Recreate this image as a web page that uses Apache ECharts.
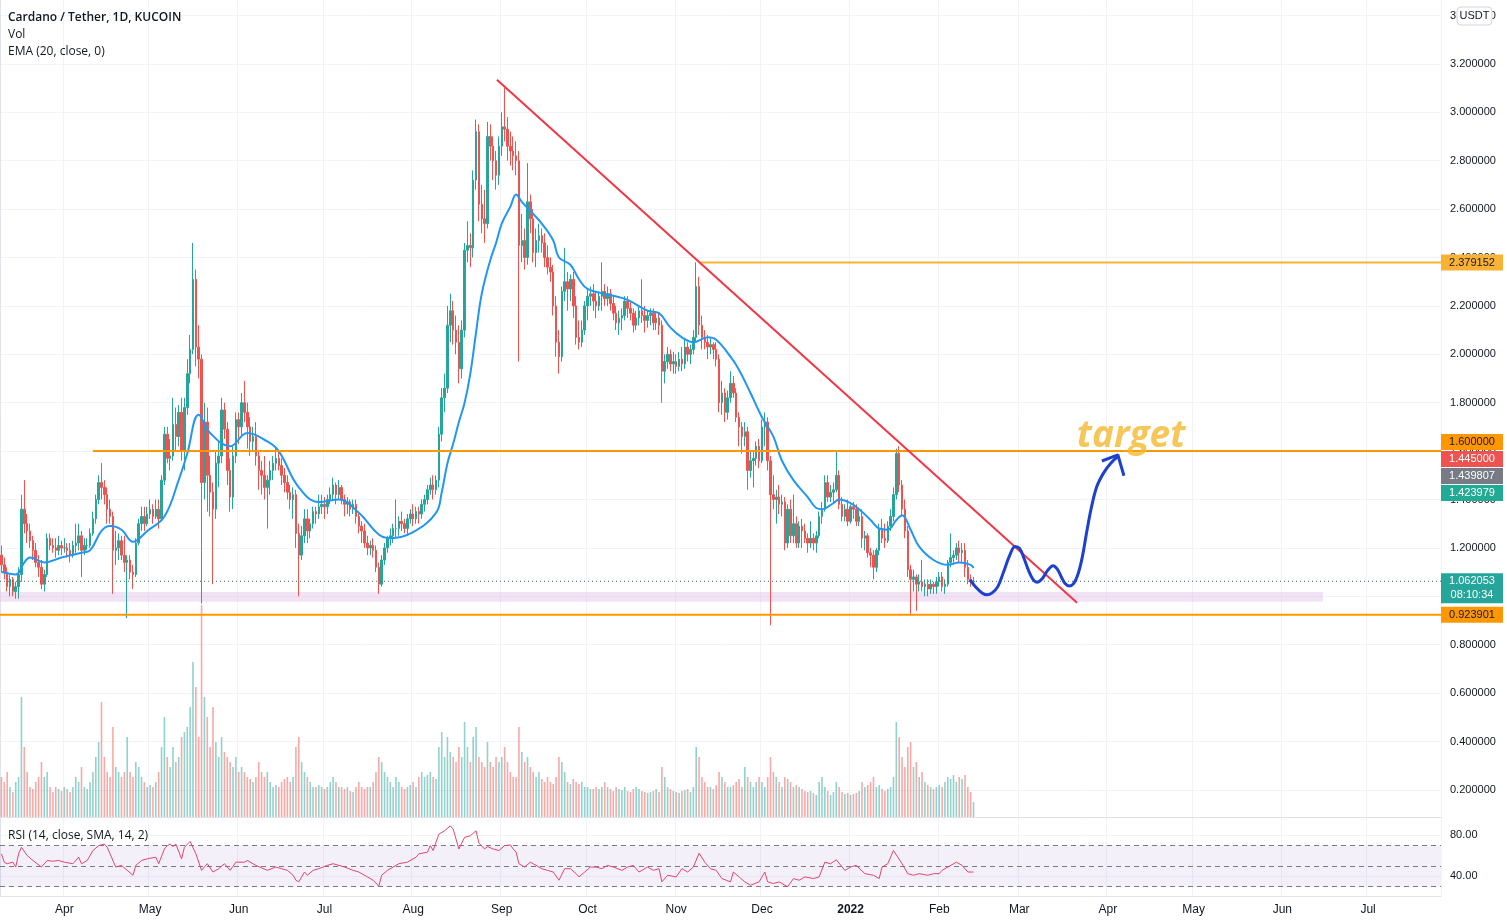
<!DOCTYPE html>
<html><head><meta charset="utf-8">
<script src="https://cdn.jsdelivr.net/npm/echarts@6/dist/echarts.min.js"></script>
<style>html,body{margin:0;padding:0;background:#fff}#c{width:1507px;height:924px}</style>
</head><body><div id="c"></div>
<script>
// ---------- DATA ----------
const startDate = [2021, 2, 10]; // 2021-03-10 (UTC), daily bars
const dayCount = 504;            // axis runs to 2022-07-26
// daily candles [open, high, low, close]
const ohlc = [
[1.17,1.21,1.10,1.13],[1.13,1.16,1.07,1.10],[1.10,1.12,1.02,1.04],[1.04,1.09,1.00,1.07],[1.07,1.08,1.00,1.02],
[1.02,1.06,0.99,1.04],[1.04,1.12,0.99,1.09],[1.09,1.42,1.06,1.36],[1.36,1.48,1.26,1.30],[1.30,1.34,1.22,1.27],
[1.27,1.30,1.20,1.23],[1.23,1.25,1.15,1.19],[1.19,1.22,1.12,1.14],[1.14,1.17,1.08,1.12],[1.12,1.15,1.03,1.05],
[1.05,1.11,1.02,1.09],[1.09,1.26,1.08,1.24],[1.24,1.26,1.19,1.21],[1.21,1.24,1.18,1.20],[1.20,1.24,1.16,1.19],
[1.19,1.25,1.17,1.21],[1.21,1.23,1.17,1.20],[1.20,1.24,1.18,1.20],[1.20,1.22,1.16,1.19],[1.19,1.22,1.14,1.17],
[1.17,1.23,1.16,1.21],[1.21,1.30,1.18,1.22],[1.22,1.30,1.19,1.25],[1.25,1.27,1.08,1.19],[1.19,1.24,1.17,1.21],
[1.21,1.24,1.19,1.21],[1.21,1.28,1.20,1.26],[1.26,1.35,1.25,1.32],[1.32,1.42,1.30,1.40],[1.40,1.50,1.38,1.47],
[1.47,1.55,1.40,1.45],[1.45,1.48,1.38,1.42],[1.42,1.45,1.30,1.36],[1.36,1.40,1.30,1.33],[1.33,1.35,1.01,1.19],
[1.19,1.27,1.13,1.20],[1.20,1.26,1.15,1.23],[1.23,1.25,1.15,1.17],[1.17,1.25,1.10,1.14],[1.14,1.17,0.91,1.15],
[1.15,1.17,1.07,1.10],[1.10,1.13,1.03,1.09],[1.09,1.24,1.08,1.22],[1.22,1.32,1.21,1.30],[1.30,1.37,1.27,1.33],
[1.33,1.37,1.27,1.30],[1.30,1.37,1.29,1.34],[1.34,1.40,1.32,1.36],[1.36,1.38,1.30,1.33],[1.33,1.40,1.32,1.36],
[1.36,1.40,1.28,1.32],[1.32,1.50,1.31,1.48],[1.48,1.70,1.46,1.67],[1.67,1.70,1.55,1.57],[1.57,1.65,1.52,1.58],
[1.58,1.82,1.56,1.71],[1.71,1.78,1.60,1.66],[1.66,1.79,1.62,1.76],[1.76,1.82,1.56,1.60],[1.60,1.82,1.52,1.78],
[1.78,1.98,1.75,1.92],[1.92,2.08,1.88,2.02],[2.02,2.46,2.00,2.31],[2.31,2.35,1.95,2.03],[2.03,2.12,1.90,1.98],
[1.98,2.00,0.97,1.47],[1.47,1.80,1.40,1.72],[1.72,1.78,1.35,1.50],[1.50,1.58,1.33,1.43],[1.43,1.47,1.05,1.36],
[1.36,1.60,1.32,1.55],[1.55,1.64,1.45,1.58],[1.58,1.82,1.55,1.77],[1.77,1.80,1.65,1.69],[1.69,1.72,1.46,1.52],
[1.52,1.57,1.35,1.41],[1.41,1.62,1.36,1.58],[1.58,1.76,1.55,1.73],[1.73,1.76,1.63,1.70],[1.70,1.84,1.66,1.80],
[1.80,1.89,1.72,1.76],[1.76,1.80,1.61,1.70],[1.70,1.74,1.58,1.64],[1.64,1.70,1.60,1.66],[1.66,1.72,1.54,1.58],
[1.58,1.60,1.44,1.52],[1.52,1.56,1.42,1.50],[1.50,1.58,1.40,1.45],[1.45,1.50,1.28,1.48],[1.48,1.56,1.42,1.52],
[1.52,1.58,1.48,1.55],[1.55,1.62,1.52,1.57],[1.57,1.60,1.52,1.54],[1.54,1.57,1.46,1.50],[1.50,1.53,1.43,1.47],
[1.47,1.50,1.40,1.43],[1.43,1.46,1.36,1.40],[1.40,1.45,1.32,1.42],[1.42,1.44,1.20,1.26],[1.26,1.30,1.00,1.17],
[1.17,1.29,1.15,1.25],[1.25,1.36,1.22,1.32],[1.32,1.36,1.22,1.27],[1.27,1.32,1.24,1.30],[1.30,1.37,1.28,1.35],
[1.35,1.37,1.30,1.34],[1.34,1.42,1.32,1.37],[1.37,1.42,1.34,1.38],[1.38,1.41,1.32,1.37],[1.37,1.42,1.34,1.40],
[1.40,1.45,1.38,1.42],[1.42,1.49,1.40,1.46],[1.46,1.47,1.38,1.42],[1.42,1.48,1.40,1.45],[1.45,1.46,1.38,1.40],
[1.40,1.42,1.33,1.38],[1.38,1.41,1.34,1.39],[1.39,1.40,1.33,1.36],[1.36,1.40,1.34,1.38],[1.38,1.40,1.30,1.33],
[1.33,1.34,1.26,1.29],[1.29,1.31,1.22,1.27],[1.27,1.30,1.20,1.22],[1.22,1.25,1.17,1.20],[1.20,1.23,1.17,1.21],
[1.21,1.24,1.16,1.19],[1.19,1.21,1.10,1.12],[1.12,1.14,1.01,1.05],[1.05,1.17,1.04,1.15],[1.15,1.22,1.13,1.20],
[1.20,1.25,1.18,1.24],[1.24,1.28,1.21,1.25],[1.25,1.30,1.22,1.28],[1.28,1.40,1.24,1.28],[1.28,1.33,1.25,1.31],
[1.31,1.35,1.27,1.30],[1.30,1.32,1.26,1.28],[1.28,1.34,1.25,1.32],[1.32,1.36,1.30,1.34],[1.34,1.38,1.29,1.32],
[1.32,1.37,1.30,1.35],[1.35,1.37,1.30,1.34],[1.34,1.40,1.32,1.38],[1.38,1.42,1.35,1.40],[1.40,1.46,1.38,1.44],
[1.44,1.49,1.42,1.46],[1.46,1.50,1.40,1.44],[1.44,1.50,1.42,1.48],[1.48,1.70,1.45,1.67],[1.67,1.86,1.64,1.82],
[1.82,1.92,1.76,1.86],[1.86,2.20,1.84,2.12],[2.12,2.25,2.05,2.18],[2.18,2.22,2.04,2.10],[2.10,2.16,2.00,2.05],
[2.05,2.12,1.88,1.94],[1.94,2.14,1.90,2.10],[2.10,2.46,2.07,2.43],[2.43,2.55,2.38,2.45],[2.45,2.50,2.36,2.44],
[2.44,2.76,2.40,2.72],[2.72,2.97,2.68,2.92],[2.92,2.95,2.55,2.62],[2.62,2.70,2.50,2.56],[2.56,2.68,2.46,2.54],
[2.54,2.96,2.52,2.90],[2.90,2.95,2.80,2.86],[2.86,2.90,2.72,2.80],[2.80,2.84,2.68,2.74],[2.74,2.90,2.70,2.86],
[2.86,3.00,2.82,2.94],[2.94,3.10,2.88,2.93],[2.93,2.98,2.80,2.86],[2.86,2.92,2.78,2.84],[2.84,2.90,2.76,2.82],
[2.82,2.88,2.74,2.80],[2.80,2.84,1.97,2.45],[2.45,2.58,2.38,2.47],[2.47,2.52,2.35,2.40],[2.40,2.79,2.37,2.63],
[2.63,2.66,2.50,2.56],[2.56,2.60,2.38,2.42],[2.42,2.52,2.36,2.47],[2.47,2.54,2.42,2.49],[2.49,2.52,2.42,2.46],
[2.46,2.50,2.36,2.40],[2.40,2.45,2.33,2.36],[2.36,2.40,2.30,2.34],[2.34,2.37,2.16,2.20],[2.20,2.24,1.99,2.05],
[2.05,2.10,1.92,1.99],[1.99,2.28,1.97,2.26],[2.26,2.44,2.22,2.30],[2.30,2.34,2.18,2.27],[2.27,2.33,2.22,2.31],
[2.31,2.34,2.15,2.20],[2.20,2.24,2.04,2.07],[2.07,2.14,2.02,2.05],[2.05,2.14,2.03,2.10],[2.10,2.22,2.08,2.20],
[2.20,2.27,2.14,2.24],[2.24,2.28,2.20,2.25],[2.25,2.29,2.18,2.22],[2.22,2.26,2.15,2.20],[2.20,2.26,2.18,2.24],
[2.24,2.38,2.18,2.26],[2.26,2.29,2.20,2.23],[2.23,2.28,2.20,2.25],[2.25,2.27,2.18,2.21],[2.21,2.24,2.14,2.17],
[2.17,2.20,2.10,2.13],[2.13,2.18,2.08,2.15],[2.15,2.19,2.10,2.16],[2.16,2.24,2.14,2.22],[2.22,2.24,2.15,2.19],
[2.19,2.22,2.14,2.17],[2.17,2.19,2.09,2.12],[2.12,2.18,2.10,2.15],[2.15,2.20,2.12,2.18],[2.18,2.31,2.13,2.16],
[2.16,2.20,2.09,2.14],[2.14,2.18,2.11,2.16],[2.16,2.19,2.12,2.17],[2.17,2.19,2.10,2.13],[2.13,2.17,2.10,2.15],
[2.15,2.17,2.08,2.12],[2.12,2.14,1.80,1.93],[1.93,2.00,1.88,1.97],[1.97,2.03,1.94,2.00],[2.00,2.02,1.93,1.96],
[1.96,2.01,1.92,1.97],[1.97,2.00,1.92,1.95],[1.95,2.01,1.93,1.98],[1.98,2.03,1.93,1.96],[1.96,2.06,1.94,2.03],
[2.03,2.05,1.97,2.00],[2.00,2.04,1.96,2.02],[2.02,2.10,2.00,2.07],[2.07,2.38,2.05,2.28],[2.28,2.32,2.08,2.12],
[2.12,2.16,2.02,2.07],[2.07,2.10,2.02,2.05],[2.05,2.08,1.98,2.03],[2.03,2.07,2.00,2.04],[2.04,2.05,1.98,2.02],
[2.02,2.05,1.95,1.98],[1.98,2.00,1.76,1.80],[1.80,1.89,1.75,1.84],[1.84,1.86,1.72,1.76],[1.76,1.85,1.73,1.82],
[1.82,1.93,1.80,1.88],[1.88,1.91,1.82,1.84],[1.84,1.86,1.72,1.74],[1.74,1.76,1.62,1.70],[1.70,1.72,1.59,1.66],
[1.66,1.72,1.62,1.68],[1.68,1.70,1.44,1.52],[1.52,1.60,1.49,1.56],[1.56,1.60,1.45,1.57],[1.57,1.64,1.54,1.62],
[1.62,1.65,1.53,1.56],[1.56,1.73,1.55,1.70],[1.70,1.76,1.62,1.72],[1.72,1.74,1.52,1.56],[1.56,1.58,0.88,1.42],
[1.42,1.50,1.36,1.40],[1.40,1.44,1.30,1.41],[1.41,1.46,1.34,1.38],[1.38,1.42,1.33,1.39],[1.39,1.41,1.19,1.22],
[1.22,1.38,1.20,1.36],[1.36,1.40,1.22,1.25],[1.25,1.42,1.22,1.30],[1.30,1.33,1.20,1.22],[1.22,1.31,1.20,1.29],
[1.29,1.32,1.20,1.27],[1.27,1.30,1.22,1.24],[1.24,1.26,1.18,1.22],[1.22,1.31,1.20,1.24],[1.24,1.26,1.19,1.22],
[1.22,1.27,1.18,1.25],[1.25,1.35,1.24,1.33],[1.33,1.39,1.30,1.36],[1.36,1.50,1.35,1.47],[1.47,1.50,1.39,1.41],
[1.41,1.46,1.39,1.43],[1.43,1.47,1.39,1.44],[1.44,1.60,1.43,1.50],[1.50,1.52,1.36,1.38],[1.38,1.41,1.31,1.33],
[1.33,1.38,1.31,1.36],[1.36,1.40,1.29,1.31],[1.31,1.38,1.30,1.37],[1.37,1.39,1.32,1.36],[1.36,1.38,1.29,1.31],
[1.31,1.36,1.29,1.33],[1.33,1.36,1.20,1.24],[1.24,1.27,1.19,1.25],[1.25,1.26,1.16,1.18],[1.18,1.20,1.12,1.17],
[1.17,1.19,1.07,1.12],[1.12,1.20,1.10,1.19],[1.19,1.30,1.17,1.28],[1.28,1.32,1.22,1.24],[1.24,1.30,1.20,1.23],
[1.23,1.31,1.22,1.29],[1.29,1.36,1.27,1.33],[1.33,1.45,1.31,1.42],[1.42,1.61,1.40,1.59],[1.59,1.62,1.43,1.46],
[1.46,1.48,1.33,1.36],[1.36,1.40,1.24,1.27],[1.27,1.29,1.08,1.11],[1.11,1.13,0.92,1.07],[1.07,1.11,1.02,1.08],
[1.08,1.09,0.94,1.05],[1.05,1.09,1.02,1.06],[1.06,1.15,1.02,1.04],[1.04,1.07,1.00,1.05],[1.05,1.07,1.00,1.03],
[1.03,1.07,1.01,1.05],[1.05,1.06,1.01,1.04],[1.04,1.08,1.01,1.06],[1.06,1.10,1.04,1.08],[1.08,1.10,1.02,1.04],
[1.04,1.07,1.01,1.05],[1.05,1.15,1.04,1.14],[1.14,1.26,1.12,1.16],[1.16,1.19,1.13,1.17],[1.17,1.22,1.15,1.20],
[1.20,1.23,1.14,1.18],[1.18,1.22,1.14,1.19],[1.19,1.22,1.08,1.12],[1.12,1.15,1.05,1.07],[1.07,1.09,1.04,1.06],
[1.06,1.08,1.05,1.062053]
];
// daily volume (relative units)
const volumes = [
40,35,45,30,25,35,40,120,70,45,30,28,35,40,55,40,45,30,25,30,28,26,
30,28,25,30,40,35,50,30,28,35,45,60,75,115,60,45,40,90,50,45,40,45,80,45,40,
55,50,40,35,30,32,30,35,45,70,100,60,50,70,55,60,80,85,90,110,155,130,80,212,
120,100,70,110,75,60,80,65,60,55,50,60,45,50,45,40,38,35,40,55,
45,40,45,35,30,32,30,35,38,40,35,40,70,80,55,45,40,35,30,30,32,30,28,30,35,
40,35,30,30,28,30,26,25,30,35,30,28,30,30,35,45,60,
55,45,40,35,30,40,35,30,28,30,32,35,30,40,45,40,42,45,40,38,
70,85,60,80,65,60,55,70,60,95,70,55,80,90,60,55,50,75,55,50,60,55,60,70,55,45,40,40,90,
65,55,60,50,45,40,45,38,35,40,35,33,40,60,55,45,35,33,38,
35,33,35,30,30,28,28,30,28,30,35,30,28,26,30,28,27,30,26,25,28,30,28,26,25,24,25,26,28,25,50,
40,30,28,26,25,24,26,27,28,25,30,70,60,40,35,30,30,28,32,
45,40,35,30,30,32,35,38,30,50,40,35,30,35,40,35,30,40,60,
45,40,35,30,40,38,35,30,32,30,28,26,25,26,24,22,35,40,30,26,22,25,35,30,25,23,24,
22,23,24,26,35,30,32,35,40,30,32,28,26,28,30,40,95,80,60,50,70,75,50,55,
40,45,35,32,30,28,30,32,30,35,40,38,42,35,40,38,42,30,25,15
];
// EMA(20): [day index, value]
const emaPoints = [
[0,1.10],[5,1.09],[8,1.14],[10,1.16],[15,1.14],[21,1.16],[28,1.18],[31,1.19],[35,1.27],[38,1.29],[42,1.275],
[46,1.225],[51,1.27],[57,1.33],[62,1.48],[65,1.59],[69,1.75],[73,1.675],[80,1.62],[86,1.675],[93,1.64],[97,1.60],
[104,1.45],[111,1.39],[118,1.40],[125,1.345],[132,1.255],[136,1.24],[144,1.265],[152,1.345],[154,1.43],[156,1.55],
[158,1.63],[160,1.72],[162,1.80],[164,1.92],[166,2.09],[168,2.25],[171,2.39],[173,2.46],[175,2.54],[178,2.61],
[180,2.66],[182,2.63],[186,2.58],[189,2.54],[193,2.47],[195,2.40],[199,2.37],[202,2.31],[205,2.27],[213,2.245],
[219,2.225],[226,2.18],[230,2.17],[234,2.11],[238,2.07],[242,2.05],[247,2.07],[250,2.06],[255,1.99],[258,1.935],
[262,1.84],[266,1.74],[270,1.66],[273,1.56],[277,1.48],[282,1.41],[285,1.365],[287,1.36],[291,1.385],[293,1.40],
[297,1.385],[300,1.36],[304,1.315],[307,1.28],[310,1.275],[313,1.315],[315,1.335],[318,1.275],[321,1.205],
[326,1.15],[331,1.13],[335,1.14],[339,1.13],[340,1.117]
];
// RSI(14): [day index, value]
const rsiPoints = [
[0,61.6],[1,53.6],[2,52.1],[4,53.6],[5,48.9],[6,61.6],[7,67.9],[9,60],[11,55.2],[14,48.9],[15,52.1],[16,55.2],
[18,54.5],[20,55.2],[22,53.6],[25,52.1],[27,58.4],[28,52.1],[30,55.2],[32,64.8],[34,69.5],[36,71.1],[37,67.9],
[40,48.9],[42,50.5],[44,45.7],[46,41],[47,50.5],[49,55.2],[51,56.8],[54,58.4],[55,52.1],[57,66.3],[58,69.5],
[59,71.1],[60,68.6],[61,71.1],[63,56.8],[64,67.9],[66,73.6],[68,61.6],[70,45.7],[72,52.1],[74,44.1],[76,47.3],
[78,52.1],[80,45.7],[82,53.6],[85,53.6],[86,55.2],[89,50.5],[93,45.7],[96,48.9],[100,45.7],[102,41],[103,36.2],
[104,34.6],[106,44.1],[107,41],[109,45.7],[111,47.3],[114,50.5],[116,52.1],[120,48.9],[123,45.7],[125,44.1],
[128,39.4],[130,36.2],[132,30.5],[133,41],[135,45.7],[139,52.1],[142,53.6],[145,58.4],[146,61.6],[149,63.2],
[150,69.5],[151,64.8],[153,80.6],[155,83.8],[157,88.6],[158,85.4],[160,66.3],[162,77.5],[164,79],[166,83.8],
[167,72],[169,66.3],[170,68.6],[172,66.3],[174,64.8],[176,69.5],[178,70.2],[179,66.3],[180,63.2],[181,52.1],
[183,48.9],[185,53.6],[187,50.5],[189,47.3],[191,45.7],[193,44.1],[195,36.2],[197,47.3],[199,47.3],[201,42.5],
[202,39.4],[204,44.1],[206,48.9],[208,48.9],[210,47.3],[212,50.5],[214,48.9],[217,45.7],[219,48.9],[221,50.5],
[222,47.3],[223,44.1],[226,48.9],[228,45.7],[230,47.3],[231,34.6],[233,41],[236,39.4],[238,47.3],[240,44.1],
[242,48.9],[244,62.2],[246,53.6],[248,47.3],[250,45.7],[252,37.8],[255,34.6],[256,44.1],[258,39.4],[260,34.6],
[262,31.4],[265,34.6],[267,44.1],[268,34.6],[270,33],[272,34.6],[275,29.9],[277,37.8],[279,36.2],[281,39.4],
[284,37.8],[286,39.4],[288,53.6],[290,52.1],[292,55.9],[295,45.7],[297,48.9],[299,50.5],[302,42.5],[305,41],
[307,37.8],[308,48.9],[310,52.1],[312,64.8],[315,52.1],[317,42.5],[319,41],[321,42.5],[324,41],[326,42.5],
[328,42.5],[329,45.7],[331,48.9],[334,53.6],[336,50.5],[338,44.1],[340,44.1]
];
const priceTicks = [0.2,0.4,0.6,0.8,1.0,1.2,1.4,1.6,1.8,2.0,2.2,2.4,2.6,2.8,3.0,3.2,3.4];
const rsiTicks = [40, 80];
const rsiLevels = [70, 50, 30];
const monthTicks = [
['2021-04-01','Apr'],['2021-05-01','May'],['2021-06-01','Jun'],['2021-07-01','Jul'],['2021-08-01','Aug'],
['2021-09-01','Sep'],['2021-10-01','Oct'],['2021-11-01','Nov'],['2021-12-01','Dec'],['2022-01-01','2022'],
['2022-02-01','Feb'],['2022-03-01','Mar'],['2022-04-01','Apr'],['2022-05-01','May'],['2022-06-01','Jun'],
['2022-07-01','Jul']
];
// drawings, in [day offset, price]
const trendLine = [[173.8,3.134],[376.7,0.973]];
const levelTop = [[244.8,2.379152],[504,2.379152]];
const levelMid = [[32.5,1.6],[504,1.6]];
const levelLow = [[0,0.923901],[504,0.923901]];
const lastPrice = 1.062053;
const zoneBox = [[0,0.977],[462.7,1.018]];
const projection = [
[339.3,1.068],[341.5,1.035],[343.5,1.014],[345.2,1.006],[347,1.014],[349,1.04],[351,1.10],[353,1.165],[355,1.206],
[356.6,1.198],[358.2,1.155],[359.8,1.105],[361.3,1.07],[362.7,1.058],[364.5,1.072],[366.5,1.108],[368.3,1.126],
[369.8,1.112],[371.3,1.078],[372.6,1.052],[374,1.043],[375.5,1.052],[377,1.09],[378.5,1.16],[380,1.26],
[381.6,1.36],[383.5,1.45],[386,1.51],[388.5,1.55],[391,1.578]
];
const arrowHead = [[385.4,1.559],[391.0,1.584],[393.1,1.498]];
const targetLabel = [395.6, 1.659, 'target'];
const badgesStack = [['1.445000','#ef5350'],['1.439807','#787b86'],['1.423979','#22ab94']];

// ---------- BUILD ----------
const dates = [];
const t0 = Date.UTC(startDate[0], startDate[1], startDate[2]);
for (let k = 0; k < dayCount; k++) dates.push(new Date(t0 + k * 864e5).toISOString().slice(0, 10));
const tickMap = {}; monthTicks.forEach(m => tickMap[m[0]] = m[1]);
const isTick = (idx, val) => tickMap[val] !== undefined;

const candleData = ohlc.map(r => [r[0], r[3], r[2], r[1]]);
const volData = volumes.map((v, k) => ({
  value: v,
  itemStyle: { color: ohlc[k][3] >= ohlc[k][0] ? 'rgba(38,166,154,0.5)' : 'rgba(239,83,80,0.5)' }
}));
const half = p => [p[0] + 0.5, p[1]];

const chart = echarts.init(document.getElementById('c'), null, { renderer: 'canvas' });
const gridCol = '#f0f3fa', borderCol = '#e0e3eb', textCol = '#131722';
const FONT = 'Liberation Sans, Arial, sans-serif';

const lineSeries = (data, color, width, extra) => Object.assign({
  type: 'line', xAxisIndex: 2, yAxisIndex: 0, data, symbol: 'none', silent: true,
  lineStyle: { color, width }, z: 5
}, extra || {});

chart.setOption({
  animation: false,
  backgroundColor: '#ffffff',
  grid: [
    { left: 0, right: 66, top: 0, height: 817 },
    { left: 0, right: 66, top: 817, height: 79 }
  ],
  xAxis: [
    { type: 'category', gridIndex: 0, data: dates, boundaryGap: true,
      axisLine: { show: true, lineStyle: { color: borderCol } }, axisTick: { show: false }, axisLabel: { show: false },
      splitLine: { show: true, interval: isTick, lineStyle: { color: gridCol } } },
    { type: 'category', gridIndex: 1, data: dates, boundaryGap: true,
      axisLine: { show: true, lineStyle: { color: borderCol } }, axisTick: { show: false },
      axisLabel: { show: true, interval: isTick, margin: 8, color: textCol, fontSize: 12, fontFamily: FONT,
        formatter: v => tickMap[v] === '2022' ? '{y|2022}' : (tickMap[v] || ''),
        rich: { y: { fontWeight: 'bold', fontSize: 12, color: textCol, fontFamily: FONT } } },
      splitLine: { show: true, interval: isTick, lineStyle: { color: gridCol } } },
    { type: 'value', gridIndex: 0, min: 0, max: dayCount, show: false },
    { type: 'value', gridIndex: 1, min: 0, max: dayCount, show: false }
  ],
  yAxis: [
    { type: 'value', gridIndex: 0, position: 'right', min: 0.088, max: 3.464, scale: true,
      axisLine: { show: true, lineStyle: { color: borderCol } },
      axisTick: { show: false, customValues: priceTicks },
      axisLabel: { customValues: priceTicks, margin: 9, color: textCol, fontSize: 11, fontFamily: FONT,
        formatter: v => Number(v).toFixed(6) },
      splitLine: { show: true, lineStyle: { color: gridCol } } },
    { type: 'value', gridIndex: 0, min: 0, max: 817, show: false },
    { type: 'value', gridIndex: 1, position: 'right', min: 21, max: 97.1,
      axisLine: { show: true, lineStyle: { color: borderCol } },
      axisTick: { show: false, customValues: rsiTicks },
      axisLabel: { customValues: rsiTicks, margin: 9, color: textCol, fontSize: 11, fontFamily: FONT,
        formatter: v => Number(v).toFixed(2) },
      splitLine: { show: true, lineStyle: { color: gridCol } } }
  ],
  series: [
    { type: 'bar', xAxisIndex: 0, yAxisIndex: 1, data: volData, barWidth: 1.6, silent: true, z: 1 },
    { type: 'candlestick', xAxisIndex: 0, yAxisIndex: 0, data: candleData, barWidth: 2, silent: true, z: 3,
      itemStyle: { color: '#26a69a', color0: '#ef5350', borderColor: '#26a69a', borderColor0: '#ef5350', borderWidth: 1 } },
    lineSeries(emaPoints.map(half), '#2196f3', 2, { smooth: 0.4, z: 4 }),
    lineSeries(levelLow, '#ff9800', 2, {
      markArea: { silent: true, itemStyle: { color: 'rgba(225,190,231,0.45)' },
        data: [[{ coord: zoneBox[0] }, { coord: zoneBox[1] }]] } }),
    lineSeries(levelMid, '#ff9800', 2),
    lineSeries(levelTop, '#f9b233', 2),
    lineSeries([[0, lastPrice], [dayCount, lastPrice]], '#3f6e6a', 1, { lineStyle: { color: '#3f6e6a', width: 1, type: [1, 3] } }),
    lineSeries(trendLine, '#f23645', 2),
    lineSeries(projection, '#1e40d0', 3, { smooth: 0.35, z: 6 }),
    lineSeries(arrowHead, '#1e40d0', 3, { z: 6 }),
    { type: 'scatter', xAxisIndex: 2, yAxisIndex: 0, symbolSize: 0, silent: true, z: 7,
      data: [[targetLabel[0], targetLabel[1]]],
      label: { show: true, position: 'inside', formatter: targetLabel[2], color: '#f5b82e',
        fontSize: 37, fontWeight: 'bold', fontStyle: 'italic', fontFamily: 'Open Sans, sans-serif' } },
    { type: 'line', xAxisIndex: 3, yAxisIndex: 2, data: rsiPoints.map(half), symbol: 'none', silent: true,
      lineStyle: { color: '#e2466e', width: 1 }, z: 5,
      markArea: { silent: true, itemStyle: { color: 'rgba(126,87,194,0.09)' },
        data: [[{ yAxis: rsiLevels[2] }, { yAxis: rsiLevels[0] }]] },
      markLine: { silent: true, symbol: 'none', label: { show: false },
        lineStyle: { color: '#787b86', type: [5, 4], width: 1 },
        data: rsiLevels.map(v => ({ yAxis: v })) } }
  ]
});

// ---------- price badges on the right scale ----------
const yPix = v => chart.convertToPixel({ yAxisIndex: 0 }, v);
const elems = [];
function badge(cy, text, bg, fg) {
  elems.push({ type: 'rect', z: 100, shape: { x: 1441, y: cy - 8, width: 62, height: 16 }, style: { fill: bg } });
  elems.push({ type: 'text', z: 101, style: { x: 1472, y: cy, text, fill: fg, align: 'center', verticalAlign: 'middle',
    font: '11px ' + FONT } });
}
badge(yPix(2.379152), '2.379152', '#f9b233', textCol);
const c16 = yPix(1.6) - 9;
badge(c16, '1.600000', '#ff9800', textCol);
badgesStack.forEach((b, k) => badge(c16 + 17 * (k + 1), b[0], b[1], '#ffffff'));
const yl = yPix(lastPrice);
elems.push({ type: 'rect', z: 100, shape: { x: 1441, y: yl - 8, width: 62, height: 30 }, style: { fill: '#26a69a' } });
elems.push({ type: 'text', z: 101, style: { x: 1472, y: yl, text: '1.062053', fill: '#fff', align: 'center', verticalAlign: 'middle', font: '11px ' + FONT } });
elems.push({ type: 'text', z: 101, style: { x: 1472, y: yl + 14, text: '08:10:34', fill: '#fff', align: 'center', verticalAlign: 'middle', font: '11px ' + FONT } });
badge(yPix(0.923901), '0.923901', '#ff9800', textCol);
// currency pill
elems.push({ type: 'rect', z: 100, shape: { x: 1457, y: 7, width: 35, height: 18, r: 4 }, style: { fill: '#fff', stroke: '#d1d4dc', lineWidth: 1 } });
elems.push({ type: 'text', z: 101, style: { x: 1474.5, y: 16, text: 'USDT', fill: textCol, align: 'center', verticalAlign: 'middle', font: '11px ' + FONT } });
// legends
const legend = [
  ['Cardano / Tether, 1D, KUCOIN', 16, '600 12px Open Sans, sans-serif'],
  ['Vol', 33, '12px Open Sans, sans-serif'],
  ['EMA (20, close, 0)', 50, '12px Open Sans, sans-serif'],
  ['RSI (14, close, SMA, 14, 2)', 834, '12px Open Sans, sans-serif']
];
legend.forEach(l => elems.push({ type: 'text', z: 101, style: { x: 8, y: l[1] + 2, text: l[0], fill: textCol, verticalAlign: 'middle', font: l[2] } }));
chart.setOption({ graphic: { elements: elems } });
</script>
</body></html>
